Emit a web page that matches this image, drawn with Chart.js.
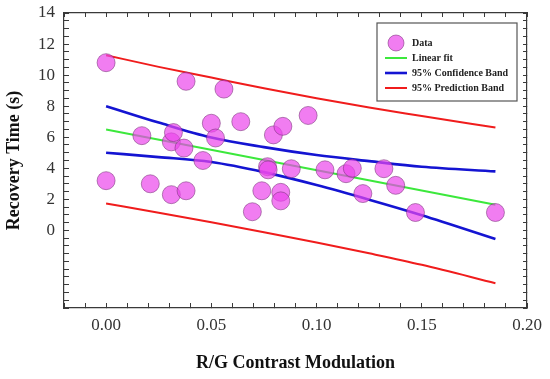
<!DOCTYPE html>
<html>
<head>
<meta charset="utf-8">
<script src="https://cdn.jsdelivr.net/npm/chart.js@4.4.1/dist/chart.umd.min.js"></script>
<style>
    body { margin: 0; background: #fff; }
</style>
</head>
<body>
<canvas id="recoveryChart" width="550" height="379"></canvas>
<script>

// data
var contrast = [0.000, 0.000, 0.017, 0.021, 0.031, 0.031, 0.032, 0.037, 0.038, 0.038, 0.046,
                0.050, 0.052, 0.056, 0.064, 0.0695, 0.074, 0.0767, 0.077, 0.0795, 0.083, 0.083,
                0.084, 0.088, 0.096, 0.104, 0.114, 0.117, 0.122, 0.132, 0.1376, 0.147, 0.185];
var recovery = [10.8, 3.2, 6.1, 3.0, 2.3, 5.7, 6.3, 5.3, 9.6, 2.55, 4.5,
                6.9, 5.95, 9.1, 7.0, 1.2, 2.55, 4.1, 3.9, 6.15, 2.45, 1.9,
                6.7, 3.97, 7.4, 3.9, 3.65, 4.0, 2.37, 3.97, 2.9, 1.15, 1.15];

var fitX = [0, 0.185];
var fitY = [6.5, 1.65];

var bandX     = [0, 0.025, 0.05, 0.075, 0.1, 0.125, 0.15, 0.185];
var confUpper = [8.0, 6.94, 5.98, 5.36, 4.85, 4.46, 4.10, 3.80];
var confLower = [5.0, 4.72, 4.40, 3.75, 2.92, 1.98, 0.98, -0.55];
var predUpper = [11.28, 10.53, 9.84, 9.15, 8.51, 7.91, 7.37, 6.62];
var predLower = [1.73, 1.14, 0.52, -0.12, -0.78, -1.48, -2.22, -3.40];

var xTickLabels = ['0.00', '0.05', '0.10', '0.15', '0.20'];
var yTickLabels = [0, 2, 4, 6, 8, 10, 12, 14];

function toPoints(xs, ys) {
    return xs.map(function(x, i) { return {x: x, y: ys[i]}; });
}

var serif = "'Liberation Serif', 'Times New Roman', serif";
var frameColor = '#3a3a3a';
var dotFill = 'rgba(235,70,235,0.7)';
var dotEdge = 'rgba(120,50,120,0.55)';

// round marker for the "Data" legend entry
var dot = document.createElement('canvas');
dot.width = 18;
dot.height = 18;
var dctx = dot.getContext('2d');
dctx.beginPath();
dctx.arc(9, 9, 8, 0, Math.PI * 2);
dctx.fillStyle = dotFill;
dctx.fill();
dctx.lineWidth = 1;
dctx.strokeStyle = dotEdge;
dctx.stroke();

// legend sits in a framed box in the upper right corner of the plot
var legendBox = {
    id: 'legendBox',
    afterLayout: function(chart) {
        var ca = chart.chartArea;
        var lg = chart.legend;
        var w = lg.width, h = lg.height;
        lg.left = ca.right - 147;
        lg.top = ca.top + 20;
        lg.right = lg.left + w;
        lg.bottom = lg.top + h;
    },
    beforeDatasetsDraw: function(chart) {
        var ca = chart.chartArea;
        var ctx = chart.ctx;
        ctx.save();
        ctx.strokeStyle = '#555';
        ctx.lineWidth = 1.2;
        ctx.strokeRect(ca.right - 150, ca.top + 10, 140, 78);
        ctx.restore();
    }
};

function lineSet(label, xs, ys, color, width, hide) {
    return {
        type: 'line',
        label: label,
        data: toPoints(xs, ys),
        showLine: true,
        borderColor: color,
        backgroundColor: color,
        borderWidth: width,
        pointRadius: 0,
        pointHoverRadius: 0,
        pointStyle: 'line',
        pointBorderColor: color,
        pointBorderWidth: width,
        cubicInterpolationMode: 'monotone',
        fill: false,
        order: 1,
        hideInLegend: hide
    };
}

var mirrorGrid = { drawOnChartArea: false, tickLength: -4, tickColor: frameColor };

var ctx = document.getElementById('recoveryChart').getContext('2d');
var recoveryChart = new Chart(ctx, {
    type: 'scatter',
    data: {
        datasets: [
            {
                label: 'Data',
                data: toPoints(contrast, recovery),
                pointRadius: 9,
                pointHoverRadius: 9,
                backgroundColor: dotFill,
                borderColor: dotEdge,
                borderWidth: 1,
                order: 0
            },
            lineSet('Linear fit', fitX, fitY, '#3ce83c', 2, false),
            lineSet('95% Confidence Band', bandX, confUpper, '#1414d2', 2.6, false),
            lineSet('95% Confidence Band', bandX, confLower, '#1414d2', 2.6, true),
            lineSet('95% Prediction Band', bandX, predUpper, '#f01c1c', 2, false),
            lineSet('95% Prediction Band', bandX, predLower, '#f01c1c', 2, true)
        ]
    },
    options: {
        responsive: false,
        animation: false,
        layout: { padding: { left: 0, right: 23, top: 13, bottom: 0 } },
        plugins: {
            tooltip: { enabled: false },
            legend: {
                position: 'chartArea',
                align: 'start',
                labels: {
                    usePointStyle: true,
                    pointStyleWidth: 22,
                    boxHeight: 10,
                    padding: 5,
                    color: '#222',
                    font: { family: serif, size: 10, weight: 'bold' },
                    generateLabels: function(chart) {
                        var items = Chart.defaults.plugins.legend.labels.generateLabels(chart);
                        items.forEach(function(it) {
                            if (it.datasetIndex === 0) it.pointStyle = dot;
                        });
                        return items;
                    },
                    filter: function(item, data) {
                        return !data.datasets[item.datasetIndex].hideInLegend;
                    }
                }
            }
        },
        scales: {
            x: {
                type: 'linear',
                position: 'bottom',
                min: -0.02,
                max: 0.2,
                grid: { drawOnChartArea: false, tickLength: -5, tickColor: frameColor },
                border: { color: frameColor, width: 1.2 },
                ticks: {
                    stepSize: 0.01,
                    autoSkip: false,
                    maxRotation: 0,
                    padding: 12,
                    color: '#333',
                    font: { family: serif, size: 17 },
                    callback: function(value) {
                        var s = (Math.round(value * 100) / 100).toFixed(2);
                        return xTickLabels.indexOf(s) >= 0 ? s : '';
                    }
                },
                title: {
                    display: true,
                    text: 'R/G Contrast Modulation',
                    color: '#111',
                    font: { family: serif, size: 18, weight: 'bold' },
                    padding: { top: 17, bottom: 5 }
                },
                afterFit: function(scale) {
                    scale.height = 71;
                    scale.paddingLeft = 0;
                    scale.paddingRight = 0;
                }
            },
            y: {
                type: 'linear',
                position: 'left',
                min: -5,
                max: 14,
                grid: { drawOnChartArea: false, tickLength: -5, tickColor: frameColor },
                border: { color: frameColor, width: 1.2 },
                ticks: {
                    stepSize: 0.5,
                    autoSkip: false,
                    padding: 14,
                    color: '#333',
                    font: { family: serif, size: 17 },
                    callback: function(value) {
                        return yTickLabels.indexOf(value) >= 0 ? String(value) : '';
                    }
                },
                title: {
                    display: true,
                    text: 'Recovery Time (s)',
                    color: '#111',
                    font: { family: serif, size: 18, weight: 'bold' },
                    padding: { top: 4, bottom: 12 }
                },
                afterFit: function(scale) {
                    scale.width = 64;
                    scale.paddingTop = 0;
                    scale.paddingBottom = 0;
                }
            },
            x2: {
                type: 'linear',
                position: 'top',
                min: -0.02,
                max: 0.2,
                grid: mirrorGrid,
                border: { color: frameColor, width: 1.2 },
                ticks: { stepSize: 0.01, autoSkip: false, display: false },
                afterFit: function(scale) { scale.height = 0; }
            },
            y2: {
                type: 'linear',
                position: 'right',
                min: -5,
                max: 14,
                grid: mirrorGrid,
                border: { color: frameColor, width: 1.2 },
                ticks: { stepSize: 0.5, autoSkip: false, display: false },
                afterFit: function(scale) { scale.width = 0; }
            }
        }
    },
    plugins: [legendBox]
});
</script>
</body>
</html>
